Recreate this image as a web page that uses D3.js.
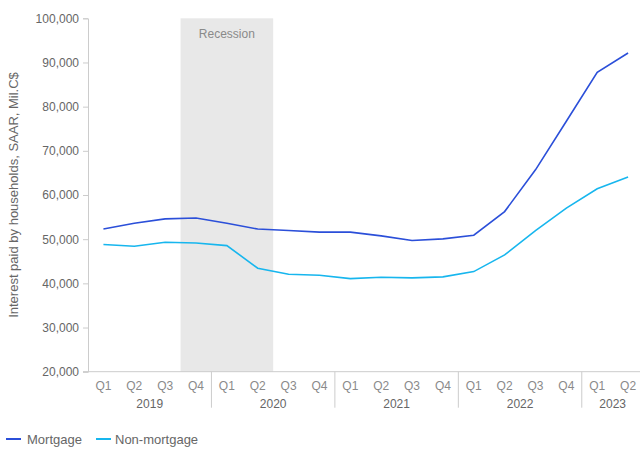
<!DOCTYPE html>
<html><head><meta charset="utf-8">
<script src="https://cdn.jsdelivr.net/npm/d3@7"></script>
<style>
body{margin:0;background:#fff;}
svg{display:block;font-family:"Liberation Sans",Arial,sans-serif;}
</style></head>
<body><svg id="c" width="640" height="450"></svg>
<script>
const categories = ["2019Q1","2019Q2","2019Q3","2019Q4","2020Q1","2020Q2","2020Q3","2020Q4","2021Q1","2021Q2","2021Q3","2021Q4","2022Q1","2022Q2","2022Q3","2022Q4","2023Q1","2023Q2"];
const quarterLabels = ["Q1","Q2","Q3","Q4","Q1","Q2","Q3","Q4","Q1","Q2","Q3","Q4","Q1","Q2","Q3","Q4","Q1","Q2"];
const years = ["2019","2020","2021","2022","2023"];
const mortgage = [52300,53600,54600,54800,53600,52300,51950,51600,51600,50750,49700,50070,50900,56250,65700,76700,87750,92150];
const nonMortgage = [48780,48400,49300,49150,48550,43430,42070,41840,41080,41390,41230,41460,42660,46440,51950,57030,61400,64050];
const yTicks = [20000,30000,40000,50000,60000,70000,80000,90000,100000];
const recession = ["2019Q4","2020Q2"];
const seriesNames = ["Mortgage","Non-mortgage"];
const colors = ["#2b4fd9","#17b6ee"];

const svg = d3.select("#c");
const L = 88, R = 643.5, T = 18.3, B = 371.7;
const x = d3.scaleBand().domain(categories).range([L, R]).padding(0);
const y = d3.scaleLinear().domain([20000,100000]).range([B, T]);
const cx = d => x(d) + x.bandwidth()/2;

// recession shade
svg.append("rect").attr("x", x(recession[0])).attr("y", T)
  .attr("width", x(recession[1]) + x.bandwidth() - x(recession[0])).attr("height", B - T)
  .attr("fill", "#e8e8e8");
svg.append("text").attr("x", (x(recession[0]) + x(recession[1]) + x.bandwidth())/2).attr("y", 38)
  .attr("text-anchor","middle").attr("font-size",12).attr("fill","#8a8a8a").text("Recession");

// y axis
const ya = svg.append("g").attr("transform",`translate(${L},0)`)
  .call(d3.axisLeft(y).tickValues(yTicks).tickSize(5).tickPadding(4).tickFormat(d3.format(",")));
ya.select(".domain").attr("stroke","#cccccc");
ya.selectAll(".tick line").attr("stroke","#cccccc");
ya.selectAll(".tick text").attr("font-size",12).attr("fill","#666").attr("font-family","Liberation Sans, Arial, sans-serif");

// x axis line
svg.append("line").attr("x1",L-5).attr("x2",640).attr("y1",B).attr("y2",B).attr("stroke","#cccccc");

// quarter labels
svg.append("g").selectAll("text").data(categories).join("text")
  .attr("x", d => cx(d)).attr("y", B + 18).attr("text-anchor","middle")
  .attr("font-size",12).attr("fill","#8a8a8a").text((d,i) => quarterLabels[i]);

// year labels and separators
years.forEach((yr, i) => {
  const cats = categories.filter(c => c.startsWith(yr));
  const x0 = x(cats[0]), x1 = x(cats[cats.length-1]) + x.bandwidth();
  svg.append("text").attr("x",(x0+x1)/2).attr("y",B + 36).attr("text-anchor","middle")
    .attr("font-size",12).attr("fill","#666").text(yr);
  if (i > 0) svg.append("line").attr("x1",x0).attr("x2",x0).attr("y1",B).attr("y2",B+36).attr("stroke","#cccccc");
});

// lines
const line = d3.line().x((d,i) => cx(categories[i])).y(d => y(d));
[mortgage, nonMortgage].forEach((s, i) => {
  svg.append("path").datum(s).attr("d", line).attr("fill","none")
    .attr("stroke", colors[i]).attr("stroke-width",1.6);
});

// y title
svg.append("text").attr("transform",`translate(18,195) rotate(-90)`).attr("text-anchor","middle")
  .attr("font-size",13).attr("fill","#666").text("Interest paid by households, SAAR, Mil.C$");

// legend
const lg = [{x:6, tx:27},{x:96, tx:115}];
seriesNames.forEach((n,i) => {
  svg.append("line").attr("x1",lg[i].x).attr("x2",lg[i].x+15).attr("y1",439).attr("y2",439)
    .attr("stroke",colors[i]).attr("stroke-width",2);
  svg.append("text").attr("x",lg[i].tx).attr("y",444).attr("font-size",13).attr("fill","#666").text(n);
});
</script></body></html>
